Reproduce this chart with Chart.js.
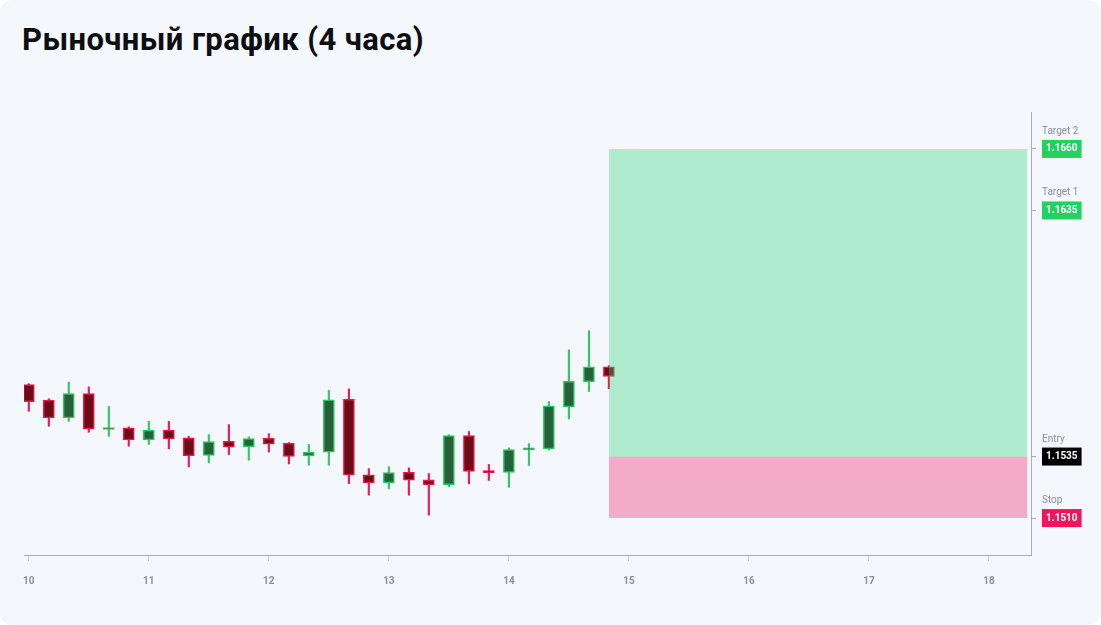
<!DOCTYPE html>
<html lang="ru">
<head>
<meta charset="utf-8">
<title>Рыночный график (4 часа)</title>
<script src="https://cdn.jsdelivr.net/npm/chart.js@4.4.1/dist/chart.umd.min.js"></script>
<style>
  html, body { margin: 0; padding: 0; background: #ffffff; }
  .card { position: absolute; left: 0; top: 0; width: 1101px; height: 625px; background: #f4f7fc; border-radius: 12px; overflow: hidden; }
  .card h1 { position: absolute; left: 22px; top: 24px; margin: 0; font: bold 31px/31px Roboto, sans-serif; letter-spacing: 0.4px; color: #0d0d12; }
  .chart-box { position: absolute; left: 0; top: 0; width: 1101px; height: 625px; }
</style>
</head>
<body>
<div class="card">
  <h1>Рыночный график (4 часа)</h1>
  <div class="chart-box"><canvas id="marketChart"></canvas></div>
</div>
<script>
// 4h candles, x = day of month
var candleTimes = [10.000, 10.167, 10.333, 10.500, 10.667, 10.833,
                   11.000, 11.167, 11.333, 11.500, 11.667, 11.833,
                   12.000, 12.167, 12.333, 12.500, 12.667, 12.833,
                   13.000, 13.167, 13.333, 13.500, 13.667, 13.833,
                   14.000, 14.167, 14.333, 14.500, 14.667, 14.833];
var openPrices  = [1.15642, 1.15579, 1.15507, 1.15606, 1.15460, 1.15467,
                   1.15418, 1.15458, 1.15426, 1.15355, 1.15412, 1.15389,
                   1.15424, 1.15404, 1.15353, 1.15368, 1.15583, 1.15276,
                   1.15243, 1.15286, 1.15255, 1.15236, 1.15435, 1.15290,
                   1.15286, 1.15377, 1.15381, 1.15552, 1.15654, 1.15715];
var highPrices  = [1.15646, 1.15585, 1.15653, 1.15633, 1.15554, 1.15471,
                   1.15493, 1.15493, 1.15432, 1.15439, 1.15480, 1.15430,
                   1.15443, 1.15407, 1.15399, 1.15619, 1.15625, 1.15301,
                   1.15309, 1.15304, 1.15281, 1.15439, 1.15452, 1.15318,
                   1.15385, 1.15403, 1.15573, 1.15784, 1.15861, 1.15719];
var lowPrices   = [1.15534, 1.15473, 1.15493, 1.15449, 1.15432, 1.15392,
                   1.15399, 1.15381, 1.15308, 1.15324, 1.15358, 1.15335,
                   1.15368, 1.15320, 1.15315, 1.15315, 1.15240, 1.15193,
                   1.15219, 1.15193, 1.15112, 1.15227, 1.15239, 1.15253,
                   1.15225, 1.15314, 1.15377, 1.15503, 1.15614, 1.15626];
var closePrices = [1.15573, 1.15507, 1.15606, 1.15461, 1.15467, 1.15418,
                   1.15458, 1.15422, 1.15354, 1.15411, 1.15388, 1.15423,
                   1.15400, 1.15351, 1.15368, 1.15580, 1.15274, 1.15243,
                   1.15285, 1.15254, 1.15235, 1.15435, 1.15290, 1.15285,
                   1.15378, 1.15385, 1.15556, 1.15656, 1.15715, 1.15676];

var dayTicks = [10, 11, 12, 13, 14, 15, 16, 17, 18];

var levelNames  = ['Stop', 'Entry', 'Target 1', 'Target 2'];
var levelPrices = [1.1510, 1.1535, 1.1635, 1.1660];
var levelColors = ['#f0145a', '#000000', '#22d160', '#22d160'];

var zoneStart = 14.833;
var zoneEnd = 18.32;

var bodyFill = [], bodyBorder = [], wickColor = [];
for (var i = 0; i < candleTimes.length; i++) {
  var up = closePrices[i] >= openPrices[i];
  bodyFill.push(up ? '#28603a' : '#6d0c14');
  bodyBorder.push(up ? '#2cc45e' : '#e6174f');
  wickColor.push(up ? '#33c865' : '#ee1c55');
}

var levelNamesPlugin = {
  id: 'levelNames',
  afterDraw: function(chart) {
    var ctx = chart.ctx;
    var yScale = chart.scales.y;
    ctx.save();
    ctx.font = '10px Roboto, sans-serif';
    ctx.fillStyle = '#8a8ea6';
    ctx.textAlign = 'left';
    ctx.textBaseline = 'middle';
    for (var i = 0; i < levelPrices.length; i++) {
      var y = yScale.getPixelForValue(levelPrices[i]);
      ctx.fillText(levelNames[i], chart.chartArea.right + 11, y - 17.5);
    }
    ctx.restore();
  }
};

document.addEventListener("DOMContentLoaded", function() {
  var canvas = document.getElementById('marketChart');

  new Chart(canvas.getContext('2d'), {
    type: 'bar',
    data: {
      datasets: [
        {
          type: 'line',
          data: [{ x: zoneStart, y: levelPrices[3] }, { x: zoneEnd, y: levelPrices[3] }],
          fill: { value: levelPrices[1] },
          backgroundColor: 'rgba(46, 214, 118, 0.35)',
          borderWidth: 0,
          pointRadius: 0,
          order: 0
        },
        {
          type: 'line',
          data: [{ x: zoneStart, y: levelPrices[1] }, { x: zoneEnd, y: levelPrices[1] }],
          fill: { value: levelPrices[0] },
          backgroundColor: 'rgba(242, 30, 104, 0.35)',
          borderWidth: 0,
          pointRadius: 0,
          order: 0
        },
        {
          data: candleTimes.map(function(t, i) { return { x: t, y: [openPrices[i], closePrices[i]] }; }),
          backgroundColor: bodyFill,
          borderColor: bodyBorder,
          borderWidth: 1.5,
          borderSkipped: false,
          barThickness: 11,
          minBarLength: 2,
          grouped: false,
          order: 1
        },
        {
          data: candleTimes.map(function(t, i) { return { x: t, y: [lowPrices[i], highPrices[i]] }; }),
          backgroundColor: wickColor,
          borderWidth: 0,
          barThickness: 1.5,
          grouped: false,
          order: 2
        }
      ]
    },
    options: {
      responsive: true,
      maintainAspectRatio: false,
      animation: false,
      layout: { padding: { left: 24, top: 112, right: 0, bottom: 0 } },
      plugins: {
        legend: { display: false },
        tooltip: { enabled: false }
      },
      scales: {
        x: {
          type: 'linear',
          min: 9.96,
          max: 18.35,
          offset: false,
          afterBuildTicks: function(scale) {
            scale.ticks = dayTicks.map(function(d) { return { value: d }; });
          },
          afterFit: function(scale) { scale.height = 70; },
          grid: { offset: false, drawOnChartArea: false, drawTicks: true, tickLength: 6, color: '#c9cbd4' },
          border: { display: true, color: '#a9acb6', width: 1 },
          ticks: {
            autoSkip: false,
            padding: 14,
            color: '#8a8ea6',
            font: { family: 'Roboto', size: 10, weight: 'bold' },
            callback: function(v) { return String(v); }
          }
        },
        y: {
          type: 'linear',
          position: 'right',
          min: 1.1495,
          max: 1.1675,
          afterBuildTicks: function(scale) {
            scale.ticks = levelPrices.map(function(p) { return { value: p }; });
          },
          afterFit: function(scale) { scale.width = 70; },
          grid: { drawOnChartArea: false, drawTicks: true, tickLength: 5, color: '#a9acb6' },
          border: { display: true, color: '#a9acb6', width: 1 },
          ticks: {
            autoSkip: false,
            padding: 10,
            color: '#ffffff',
            font: { family: 'Roboto', size: 10, weight: 'bold' },
            showLabelBackdrop: true,
            backdropColor: function(c) { return levelColors[c.index]; },
            backdropPadding: { left: 4, right: 4, top: 3, bottom: 3 },
            callback: function(v) { return Number(v).toFixed(4); }
          }
        }
      }
    },
    plugins: [levelNamesPlugin]
  });
});
</script>
</body>
</html>
